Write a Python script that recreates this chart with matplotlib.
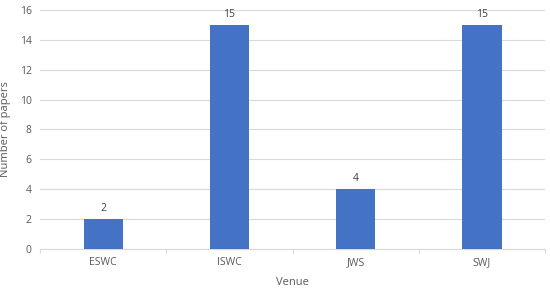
import numpy as np
import matplotlib
matplotlib.use('Agg')
import matplotlib.pyplot as plt

plt.rcParams['font.family'] = ['Open Sans', 'DejaVu Sans']

venues = ['ESWC', 'ISWC', 'JWS', 'SWJ']
papers = [2, 15, 4, 15]

text_color = '#595959'
grid_color = '#d9d9d9'

fig = plt.figure(figsize=(5.5, 2.9), dpi=100)
ax = fig.add_axes([0.073, 0.141, 0.918, 0.825])

x = np.arange(len(venues))
bars = ax.bar(x, papers, width=0.31, color='#4472c4', zorder=3)
for xi, v in zip(x, papers):
    ax.text(xi, v + 0.35, str(v), ha='center', va='bottom', fontsize=7.5, color='#404040')

ax.set_xlim(-0.5, len(venues) - 0.5)
ax.set_ylim(0, 16)
ax.set_yticks(range(0, 17, 2))
ax.set_xticks(x)
ax.set_xticklabels(venues)
ax.set_xticks(np.arange(-0.5, len(venues), 1.0), minor=True)

ax.yaxis.grid(True, color=grid_color, linewidth=0.8, zorder=0)
ax.tick_params(axis='both', which='major', length=0, labelsize=7.5, labelcolor=text_color, pad=6)
ax.tick_params(axis='x', which='minor', length=3, color=grid_color, width=0.8)

for side in ['top', 'right', 'left']:
    ax.spines[side].set_visible(False)
ax.spines['bottom'].set_color(grid_color)
ax.spines['bottom'].set_linewidth(0.8)

ax.set_xlabel('Venue', fontsize=8, color=text_color, labelpad=6)
ax.set_ylabel('Number of papers', fontsize=8, color=text_color, labelpad=6)

fig.savefig('out.png', dpi=100)
